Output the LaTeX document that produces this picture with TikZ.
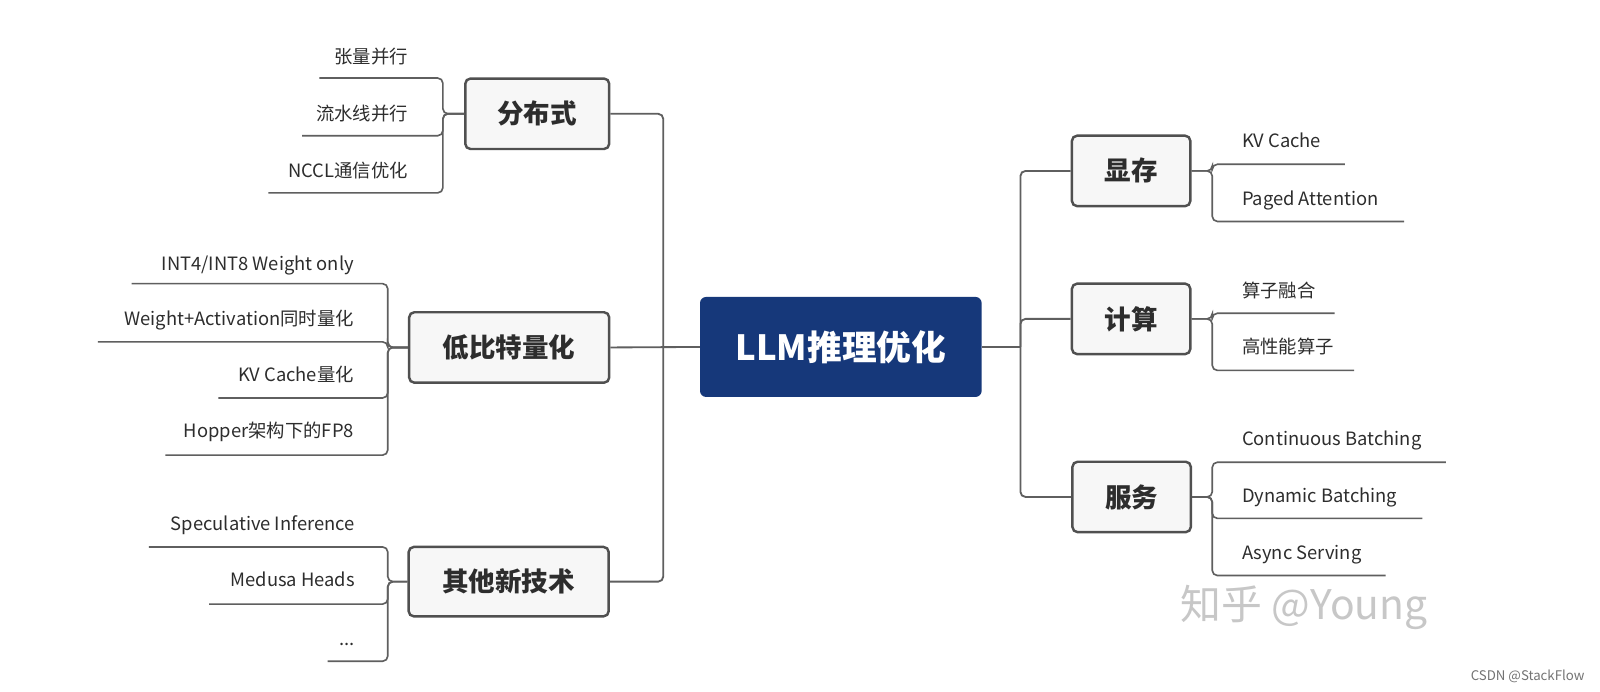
\documentclass[tikz,border=0pt]{standalone}
\usepackage{fontspec}
\setmainfont{Noto Sans CJK SC}
\definecolor{linegray}{RGB}{95,95,95}
\definecolor{boxgray}{RGB}{80,80,80}
\definecolor{boxfill}{RGB}{247,247,247}
\definecolor{txt}{RGB}{45,45,45}
\definecolor{mainblue}{RGB}{22,56,122}
\begin{document}
\begin{tikzpicture}[x=1pt,y=-1pt,
  conn/.style={draw=linegray, line width=1.8pt, rounded corners=5pt},
  uline/.style={draw=linegray, line width=1.6pt, rounded corners=5pt},
  topic/.style={draw=boxgray, line width=2.4pt, fill=boxfill, rounded corners=5pt,
    font=\fontsize{26}{30}\selectfont\bfseries, text=txt, inner sep=0pt},
  leaf/.style={font=\fontsize{18}{20}\selectfont, text=txt, inner sep=0pt,
    text height=14pt, text depth=4pt},
  leafL/.style={leaf, anchor=east},
  leafR/.style={leaf, anchor=west}]
\useasboundingbox (0,0) rectangle (1568,678);
\fill[white] (0,0) rectangle (1568,678);

% central topic
\node[draw=none, fill=mainblue, rounded corners=6pt, minimum width=276pt, minimum height=98pt,
  inner sep=0pt, text=white, font=\fontsize{34}{40}\selectfont\bfseries] (main) at (824,340) {LLM推理优化};

% main topics
\node[topic, minimum width=141pt, minimum height=69pt] (fbs) at (526.5,111.5) {分布式};
\node[topic, minimum width=196pt, minimum height=69pt] (dbt) at (499,340.5) {低比特量化};
\node[topic, minimum width=196pt, minimum height=68pt] (qt) at (498.5,570) {其他新技术};
\node[topic, minimum width=116pt, minimum height=69pt] (xc) at (1108.5,167.5) {显存};
\node[topic, minimum width=116pt, minimum height=69pt] (js) at (1108.5,312.5) {计算};
\node[topic, minimum width=116pt, minimum height=69pt] (fw) at (1109,487) {服务};

% trunks
\coordinate (tl) at (650,340);
\coordinate (tr) at (1000,340);
\draw[conn] (fbs.east) -| (tl) |- (qt.east);
\draw[conn] (main.west) -- (dbt.east);
\draw[conn] (main.east) -- (tr);
\draw[conn] (xc.west) -| (tr) |- (fw.west);
\draw[conn] (tr) |- (js.west);

% bracket x positions
\coordinate (bA) at (434,0);
\coordinate (bB) at (380,0);
\coordinate (bR) at (1188,0);

% group A: 分布式
\node[leafL] (a1) at (400,57) {张量并行};
\node[leafL] (a2) at (400,113) {流水线并行};
\node[leafL] (a3) at (400,168.5) {NCCL通信优化};
\coordinate (a1u) at (313,76.5);
\coordinate (a2u) at (296,133);
\coordinate (a3u) at (263,189);
\foreach \u in {a1u,a2u,a3u}
  \draw[uline] (\u) -- (\u -| bA) |- (fbs.west);

% group B: 低比特量化
\node[leafL] (b1) at (347,260) {INT4/INT8 Weight only};
\node[leafL] (b2) at (347,314) {Weight+Activation同时量化};
\node[leafL] (b3) at (347,369) {KV Cache量化};
\node[leafL] (b4) at (347,424) {Hopper架构下的FP8};
\coordinate (b1u) at (129,278);
\coordinate (b2u) at (96,335);
\coordinate (b3u) at (214,390);
\coordinate (b4u) at (162,446);
\foreach \u in {b1u,b2u,b3u,b4u}
  \draw[uline] (\u) -- (\u -| bB) |- (dbt.west);

% group C: 其他新技术
\node[leafL] (c1) at (348,515) {Speculative Inference};
\node[leafL] (c2) at (348,570) {Medusa Heads};
\node[leafL] (c3) at (348,628) {...};
\coordinate (c1u) at (146,536);
\coordinate (c2u) at (205,592);
\coordinate (c3u) at (321,648);
\foreach \u in {c1u,c2u,c3u}
  \draw[uline] (\u) -- (\u -| bB) |- (qt.west);

% group D: 显存
\node[leafR] (d1) at (1217,140) {KV Cache};
\node[leafR] (d2) at (1217,196) {Paged Attention};
\coordinate (d1u) at (1318,161);
\coordinate (d2u) at (1376,217);
\foreach \u in {d1u,d2u}
  \draw[uline] (\u) -- (\u -| bR) |- (xc.east);

% group E: 计算
\node[leafR] (e1) at (1217,287) {算子融合};
\node[leafR] (e2) at (1217,341) {高性能算子};
\coordinate (e1u) at (1308,307);
\coordinate (e2u) at (1327,363);
\foreach \u in {e1u,e2u}
  \draw[uline] (\u) -- (\u -| bR) |- (js.east);

% group F: 服务
\node[leafR] (f1) at (1217,432) {Continuous Batching};
\node[leafR] (f2) at (1217,487) {Dynamic Batching};
\node[leafR] (f3) at (1217,543) {Async Serving};
\coordinate (f1u) at (1417,453);
\coordinate (f2u) at (1394,508);
\coordinate (f3u) at (1358,564);
\foreach \u in {f1u,f2u,f3u}
  \draw[uline] (\u) -- (\u -| bR) |- (fw.east);

% watermarks
\node[text=black!22, font=\fontsize{40}{44}\selectfont, inner sep=0pt] (wm) at (1278,595) {知乎 @Young};
\node[text=black!55, font=\fontsize{13}{15}\selectfont, anchor=east, inner sep=0pt] (csdn) at (1553,663) {CSDN @StackFlow};
\end{tikzpicture}
\end{document}
